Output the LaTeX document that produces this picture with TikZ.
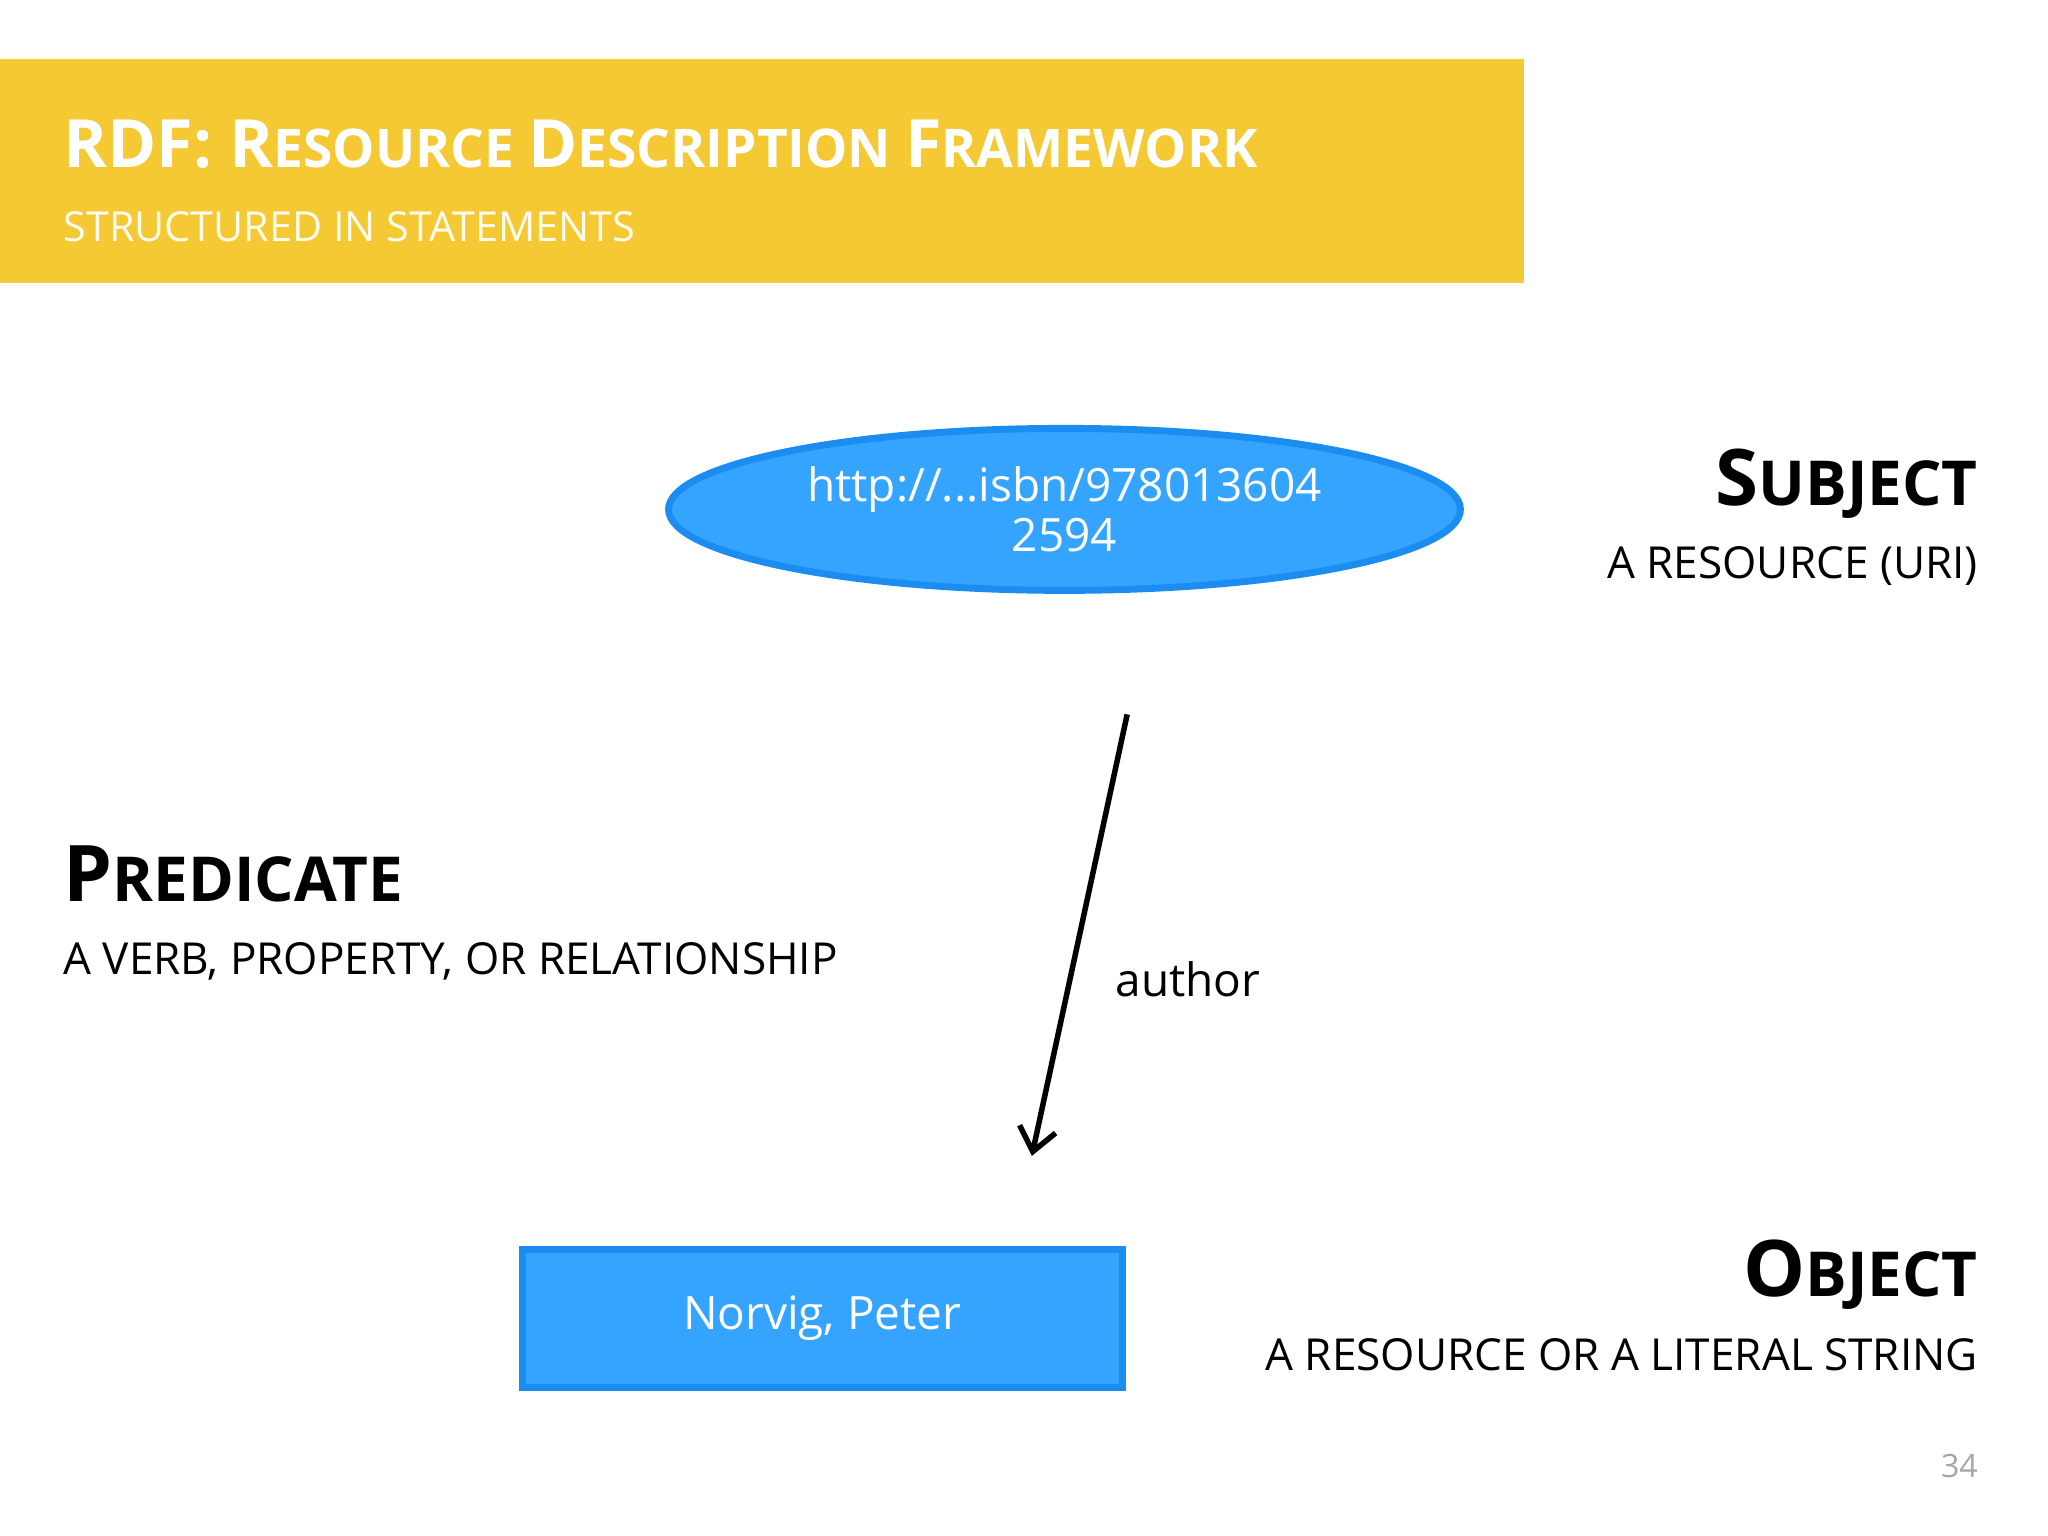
\documentclass[tikz,border=0pt]{standalone}
\usepackage{fontspec}
\setmainfont{Open Sans}
\usetikzlibrary{shapes.geometric,arrows.meta}
\definecolor{titleyellow}{RGB}{244,201,52}
\definecolor{bfill}{RGB}{53,164,255}
\definecolor{bdraw}{RGB}{27,140,240}
\newcommand{\bigc}[1]{{\fontsize{17}{20}\selectfont #1}}
\newcommand{\tbig}[1]{{\fontsize{14.5}{17}\selectfont #1}}
\begin{document}
\begin{tikzpicture}[x=0.01cm,y=-0.01cm,
  shapebox/.style={fill=bfill,draw=bdraw,line width=1.5pt,text=white,font=\fontsize{10}{12}\selectfont},
  heading/.style={anchor=base east,font=\fontsize{13.5}{16}\selectfont\bfseries},
  sub/.style={anchor=base east,font=\fontsize{9.6}{12}\selectfont}]
\useasboundingbox (0,0) rectangle (1568,1176);
\fill[white] (0,0) rectangle (1568,1176);
\fill[titleyellow] (0,45) rectangle (1167,217);
\node[anchor=base west,text=white,inner sep=0pt,font=\fontsize{11.6}{14}\selectfont\bfseries] (title) at (48,128)
  {\tbig{RDF: R}ESOURCE \tbig{D}ESCRIPTION \tbig{F}RAMEWORK};
\node[anchor=base west,inner sep=0pt,text=white!92!titleyellow,font=\fontsize{9}{11}\selectfont] (subt) at (48,185) {STRUCTURED IN STATEMENTS};
\node[shapebox,ellipse,minimum width=6.06cm,minimum height=1.24cm,align=center,inner sep=0pt] (subj) at (815,390)
  {http://...isbn/978013604\\[-1pt]2594};
\node[shapebox,rectangle,minimum width=4.59cm,minimum height=1.05cm] (obj) at (629.5,1009.5) {Norvig, Peter};
\coordinate (a1) at (863,547);
\coordinate (a2) at (790,885);
\draw[line width=1.2pt,-{Straight Barb[length=5pt,width=8pt]}] (a1) -- node[pos=0.6,right=6pt,font=\fontsize{10}{12}\selectfont] (lab) {author} (a2);
\node[heading,inner sep=0pt] (sh) at (1515,387) {\bigc{S}UBJECT};
\node[sub,inner sep=0pt] (ss) at (1515,443) {A RESOURCE (URI)};
\node[heading,inner sep=0pt,anchor=base west] (ph) at (48,690) {\bigc{P}REDICATE};
\node[sub,inner sep=0pt,anchor=base west] (ps) at (48,746) {A VERB, PROPERTY, OR RELATIONSHIP};
\node[heading,inner sep=0pt] (oh) at (1515,993) {\bigc{O}BJECT};
\node[sub,inner sep=0pt] (os) at (1515,1049) {A RESOURCE OR A LITERAL STRING};
\node[anchor=base east,inner sep=0pt,text=gray!70,font=\fontsize{7}{9}\selectfont] (pg) at (1515,1131) {34};
\end{tikzpicture}
\end{document}
